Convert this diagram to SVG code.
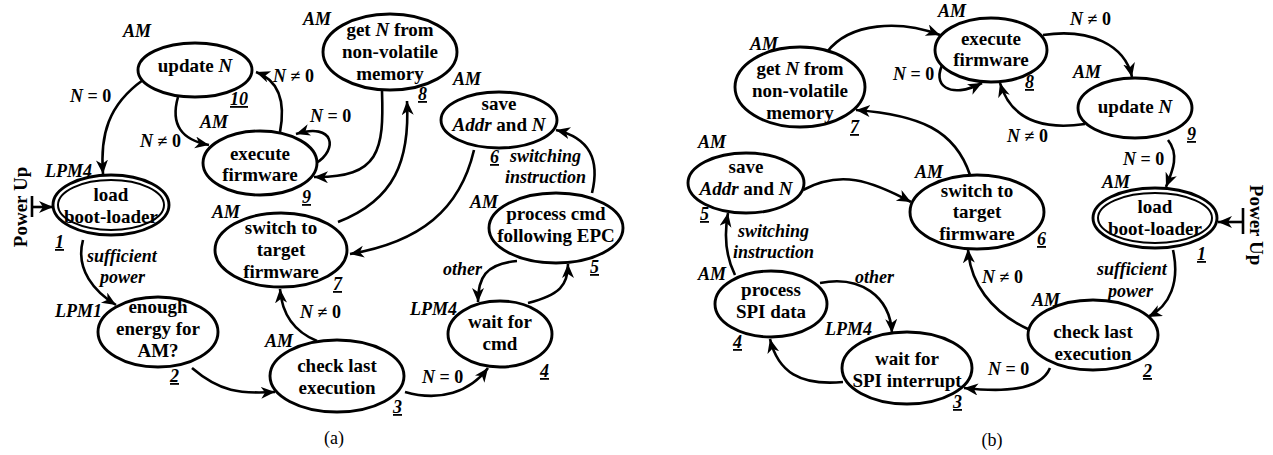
<svg xmlns="http://www.w3.org/2000/svg" width="1273" height="455" viewBox="0 0 1273 455" font-family="'Liberation Serif', 'DejaVu Serif', serif">
<defs>
<marker id="ah" markerUnits="userSpaceOnUse" markerWidth="16" markerHeight="14" refX="14" refY="6" orient="auto">
<path d="M0,0 L14,6 L0,12 L4,6 Z" fill="#000"/>
</marker>
<style>
.n ellipse{fill:#fff;stroke:#000;stroke-width:2.9}
.n .d{stroke-width:2}
text{font-family:'Liberation Serif','DejaVu Serif',serif;font-weight:bold;fill:#000}
.t{font-size:19px;text-anchor:middle}
.l{font-size:18px;font-style:italic}
.m{font-size:18px}
.u{font-size:18px;font-style:italic;text-decoration:underline}
.i{font-style:italic}
.e path{fill:none;stroke:#000;stroke-width:2.6;marker-end:url(#ah)}
.p{fill:none;stroke:#000;stroke-width:2.6}
.cap{font-weight:normal;font-size:18px;text-anchor:middle}
</style>
</defs>
<rect width="1273" height="455" fill="#fff"/>

<!-- ===== Diagram (a) ===== -->
<g id="a-connectors" class="e">
<path d="M143,80 C108,105 100,135 103,174"/>
<path d="M178,97 C170,125 182,140 209,145"/>
<path d="M280,132 C286,100 278,80 256,72"/>
<path d="M316,163 C338,150 335,122 296,134"/>
<path d="M382,91 C384,150 380,178 314,177"/>
<path d="M338,222 C395,200 410,160 407,101"/>
<path d="M474,150 C460,210 420,242 350,254"/>
<path d="M592,193 C600,160 590,138 556,130"/>
<path d="M517,261 C485,264 478,278 478,302"/>
<path d="M528,303 C560,295 568,285 568,264"/>
<path d="M405,392 C440,402 470,392 488,368"/>
<path d="M317,341 C295,332 282,316 280,289"/>
<path d="M192,368 C220,392 240,394 275,392"/>
<path d="M83,240 C75,270 95,292 116,305"/>
</g>
<g id="a-powerup">
<path class="p" d="M32,196 V217"/>
<path class="p" d="M32,207 H53" marker-end="url(#ah)"/>
<text class="t" font-size="18" transform="translate(27,207) rotate(-90)">Power Up</text>
</g>
<g id="a-n1" class="n">
<ellipse cx="111" cy="205" rx="58" ry="30"/>
<ellipse class="d" cx="111" cy="205" rx="53" ry="25"/>
<text class="t" x="111" y="201">load</text>
<text class="t" x="111" y="223">boot-loader</text>
<text class="l" x="45" y="177">LPM4</text>
<text class="u" x="55" y="248">1</text>
</g>
<g id="a-n2" class="n">
<ellipse cx="158" cy="332" rx="60" ry="35"/>
<text class="t" x="158" y="313">enough</text>
<text class="t" x="158" y="335">energy for</text>
<text class="t" x="158" y="357">AM?</text>
<text class="l" x="55" y="317">LPM1</text>
<text class="u" x="170" y="382">2</text>
</g>
<g id="a-n3" class="n">
<ellipse cx="337" cy="376" rx="67" ry="36"/>
<text class="t" x="337" y="372">check last</text>
<text class="t" x="337" y="394">execution</text>
<text class="l" x="265" y="347">AM</text>
<text class="u" x="393" y="413">3</text>
</g>
<g id="a-n4" class="n">
<ellipse cx="500" cy="334" rx="52" ry="33"/>
<text class="t" x="500" y="328">wait for</text>
<text class="t" x="500" y="350">cmd</text>
<text class="l" x="410" y="315">LPM4</text>
<text class="u" x="540" y="377">4</text>
</g>
<g id="a-n5" class="n">
<ellipse cx="556" cy="228" rx="67" ry="35"/>
<text class="t" x="556" y="220">process cmd</text>
<text class="t" x="556" y="242">following EPC</text>
<text class="l" x="470" y="208">AM</text>
<text class="u" x="590" y="273">5</text>
</g>
<g id="a-n6" class="n">
<ellipse cx="499" cy="120" rx="58" ry="28"/>
<text class="t" x="499" y="110">save</text>
<text class="t" x="499" y="131"><tspan class="i">Addr</tspan> and <tspan class="i">N</tspan></text>
<text class="l" x="453" y="85">AM</text>
<text class="u" x="490" y="163">6</text>
</g>
<g id="a-n7" class="n">
<ellipse cx="281" cy="250" rx="66" ry="37"/>
<text class="t" x="281" y="234">switch to</text>
<text class="t" x="281" y="256">target</text>
<text class="t" x="281" y="278">firmware</text>
<text class="l" x="212" y="218">AM</text>
<text class="u" x="333" y="290">7</text>
</g>
<g id="a-n8" class="n">
<ellipse cx="390" cy="52" rx="67" ry="38"/>
<text class="t" x="390" y="36">get <tspan class="i">N</tspan> from</text>
<text class="t" x="390" y="58">non-volatile</text>
<text class="t" x="390" y="80">memory</text>
<text class="l" x="303" y="25">AM</text>
<text class="u" x="418" y="100">8</text>
</g>
<g id="a-n9" class="n">
<ellipse cx="260" cy="163" rx="57" ry="32"/>
<text class="t" x="260" y="160">execute</text>
<text class="t" x="260" y="181">firmware</text>
<text class="l" x="200" y="128">AM</text>
<text class="u" x="302" y="203">9</text>
</g>
<g id="a-n10" class="n">
<ellipse cx="195" cy="70" rx="57" ry="27"/>
<text class="t" x="195" y="72">update <tspan class="i">N</tspan></text>
<text class="l" x="123" y="37">AM</text>
<text class="u" x="230" y="105">10</text>
</g>
<g id="a-labels">
<text class="m" x="70" y="102"><tspan class="i">N</tspan> = 0</text>
<text class="m" x="140" y="147"><tspan class="i">N</tspan> ≠ 0</text>
<text class="m" x="273" y="82"><tspan class="i">N</tspan> ≠ 0</text>
<text class="m" x="310" y="122"><tspan class="i">N</tspan> = 0</text>
<text class="l" x="87" y="262">sufficient</text>
<text class="l" x="100" y="283">power</text>
<text class="m" x="300" y="318"><tspan class="i">N</tspan> ≠ 0</text>
<text class="m" x="422" y="383"><tspan class="i">N</tspan> = 0</text>
<text class="l" x="443" y="275">other</text>
<text class="l" x="510" y="162">switching</text>
<text class="l" x="505" y="183">instruction</text>
<text class="cap" x="334" y="444">(a)</text>
</g>

<!-- ===== Diagram (b) ===== -->
<g id="b-connectors" class="e">
<path d="M827,52 C850,22 900,20 940,35"/>
<path d="M944,62 C930,85 950,100 982,83"/>
<path d="M1043,35 C1090,28 1125,45 1132,77"/>
<path d="M1085,124 C1030,132 1008,110 1000,83"/>
<path d="M1168,140 C1180,155 1172,172 1166,187"/>
<path d="M1173,250 C1180,282 1170,306 1148,317"/>
<path d="M1030,330 C990,312 970,282 968,249"/>
<path d="M1050,368 C1040,392 1000,392 964,388"/>
<path d="M843,382 C800,386 778,372 770,339"/>
<path d="M820,283 C860,275 890,296 892,333"/>
<path d="M735,275 C725,255 724,235 728,213"/>
<path d="M803,190 C840,170 870,180 911,202"/>
<path d="M970,175 C955,130 920,115 856,110"/>
</g>
<g id="b-powerup">
<path class="p" d="M1243,208 V234"/>
<path class="p" d="M1243,222 H1218" marker-end="url(#ah)"/>
<text class="t" font-size="18" transform="translate(1250,225) rotate(90)">Power Up</text>
</g>
<g id="b-n1" class="n">
<ellipse cx="1155" cy="218" rx="62" ry="30"/>
<ellipse class="d" cx="1155" cy="218" rx="57" ry="25"/>
<text class="t" x="1155" y="213">load</text>
<text class="t" x="1155" y="235">boot-loader</text>
<text class="l" x="1102" y="188">AM</text>
<text class="u" x="1197" y="260">1</text>
</g>
<g id="b-n2" class="n">
<ellipse cx="1093" cy="335" rx="65" ry="35"/>
<text class="t" x="1093" y="338">check last</text>
<text class="t" x="1093" y="360">execution</text>
<text class="l" x="1032" y="306">AM</text>
<text class="u" x="1143" y="377">2</text>
</g>
<g id="b-n3" class="n">
<ellipse cx="907" cy="368" rx="65" ry="36"/>
<text class="t" x="907" y="365">wait for</text>
<text class="t" x="907" y="387">SPI interrupt</text>
<text class="l" x="825" y="335">LPM4</text>
<text class="u" x="953" y="408">3</text>
</g>
<g id="b-n4" class="n">
<ellipse cx="771" cy="304" rx="56" ry="33"/>
<text class="t" x="771" y="296">process</text>
<text class="t" x="771" y="318">SPI data</text>
<text class="l" x="698" y="280">AM</text>
<text class="u" x="733" y="348">4</text>
</g>
<g id="b-n5" class="n">
<ellipse cx="746" cy="183" rx="58" ry="30"/>
<text class="t" x="746" y="173">save</text>
<text class="t" x="746" y="195"><tspan class="i">Addr</tspan> and <tspan class="i">N</tspan></text>
<text class="l" x="698" y="148">AM</text>
<text class="u" x="700" y="220">5</text>
</g>
<g id="b-n6" class="n">
<ellipse cx="977" cy="212" rx="67" ry="37"/>
<text class="t" x="977" y="197">switch to</text>
<text class="t" x="977" y="218">target</text>
<text class="t" x="977" y="240">firmware</text>
<text class="l" x="915" y="178">AM</text>
<text class="u" x="1037" y="245">6</text>
</g>
<g id="b-n7" class="n">
<ellipse cx="800" cy="87" rx="65" ry="40"/>
<text class="t" x="800" y="75">get <tspan class="i">N</tspan> from</text>
<text class="t" x="800" y="97">non-volatile</text>
<text class="t" x="800" y="119">memory</text>
<text class="l" x="750" y="50">AM</text>
<text class="u" x="850" y="133">7</text>
</g>
<g id="b-n8" class="n">
<ellipse cx="991" cy="50" rx="56" ry="32"/>
<text class="t" x="991" y="45">execute</text>
<text class="t" x="991" y="66">firmware</text>
<text class="l" x="938" y="17">AM</text>
<text class="u" x="1025" y="88">8</text>
</g>
<g id="b-n9" class="n">
<ellipse cx="1135" cy="108" rx="57" ry="30"/>
<text class="t" x="1135" y="113">update <tspan class="i">N</tspan></text>
<text class="l" x="1073" y="78">AM</text>
<text class="u" x="1187" y="140">9</text>
</g>
<g id="b-labels">
<text class="m" x="1070" y="25"><tspan class="i">N</tspan> ≠ 0</text>
<text class="m" x="1007" y="142"><tspan class="i">N</tspan> ≠ 0</text>
<text class="m" x="1123" y="165"><tspan class="i">N</tspan> = 0</text>
<text class="m" x="893" y="80"><tspan class="i">N</tspan> = 0</text>
<text class="l" x="1097" y="275">sufficient</text>
<text class="l" x="1108" y="297">power</text>
<text class="m" x="982" y="283"><tspan class="i">N</tspan> ≠ 0</text>
<text class="m" x="988" y="375"><tspan class="i">N</tspan> = 0</text>
<text class="l" x="855" y="283">other</text>
<text class="l" x="738" y="237">switching</text>
<text class="l" x="733" y="258">instruction</text>
<text class="cap" x="992" y="446">(b)</text>
</g>
</svg>
